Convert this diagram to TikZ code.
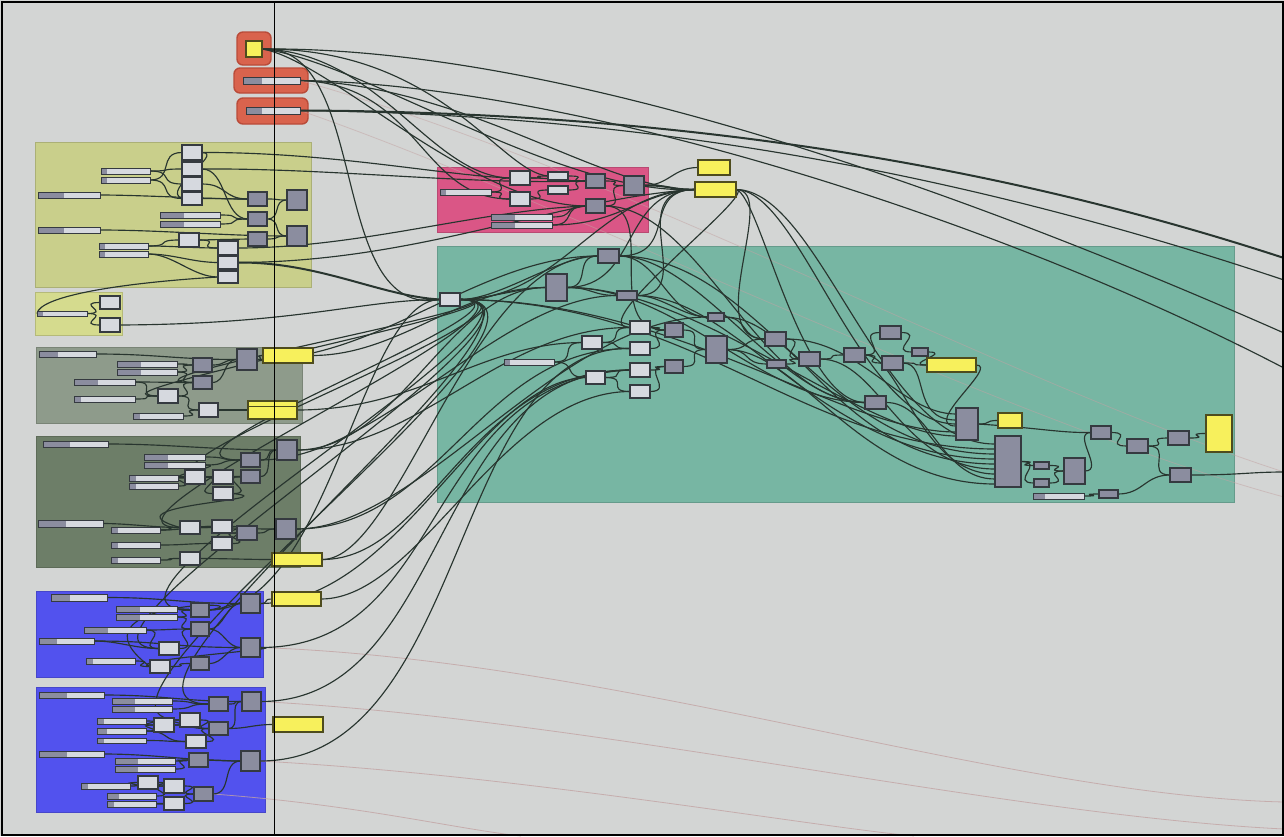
\documentclass[tikz,border=0pt]{standalone}
\usetikzlibrary{calc}
\definecolor{bgc}{HTML}{D3D5D4}
\definecolor{wirec}{HTML}{28352F}
\definecolor{ghostc}{HTML}{C2A3A3}
\definecolor{compc}{HTML}{8B8D9F}
\definecolor{lightc}{HTML}{D6D9DF}
\definecolor{edgec}{HTML}{353A40}
\definecolor{panelc}{HTML}{F7F05C}
\definecolor{paneledge}{HTML}{4E4C1E}
\definecolor{grpyg}{HTML}{C9CF8B}
\definecolor{grpyg2}{HTML}{D5DB8E}
\definecolor{grpga}{HTML}{8E9B8B}
\definecolor{grpgb}{HTML}{6D7E68}
\definecolor{grpblue}{HTML}{5252EE}
\definecolor{grppink}{HTML}{DA5686}
\definecolor{grpteal}{HTML}{77B6A3}
\definecolor{grpred}{HTML}{D9634D}
\definecolor{grpreded}{HTML}{B94B39}

\pgfdeclarelayer{groups}
\pgfdeclarelayer{wires}
\pgfsetlayers{groups,wires,main}

\tikzset{
  box/.style={draw=edgec,line width=1.3pt,inner sep=0pt,outer sep=0pt,anchor=north west},
  dk/.style={box,fill=compc},
  lt/.style={box,fill=lightc},
  pn/.style={box,fill=panelc,draw=paneledge},
  sldbox/.style={box,fill=lightc,line width=0.9pt},
  rgrp/.style={fill=grpred,draw=grpreded,line width=1.4pt,rounded corners=6pt,inner sep=0pt,outer sep=0pt,anchor=north west},
  grp/.style={draw=#1!85!black,line width=0.6pt,fill=#1,inner sep=0pt,outer sep=0pt,anchor=north west},
  wire/.style={draw=wirec,line width=1.15pt},
  heavy/.style={draw=wirec,line width=2pt},
  ghost/.style={draw=ghostc,line width=0.8pt,draw opacity=0.8},
}

% component box: style, name, x1, y1, x2, y2
\newcommand\cpn[6]{\node[#1,minimum width={(#5-#3)*1pt},minimum height={(#6-#4)*1pt}] (#2) at (#3,#4) {};}
% number slider: name, x1, y1, x2, y2, width of the dark grip
\newcommand\slid[6]{\node[sldbox,minimum width={(#4-#2)*1pt},minimum height={(#5-#3)*1pt},
  path picture={\fill[compc] (path picture bounding box.north west) rectangle ([xshift=#6pt]path picture bounding box.south west);}] (#1) at (#2,#3) {};}
% group frame: colour, name, x1, y1, x2, y2
\newcommand\gbx[6]{\node[grp=#1,minimum width={(#5-#3)*1pt},minimum height={(#6-#4)*1pt}] (#2) at (#3,#4) {};}
% plain output-to-input wire
\newcommand\wi[3][25]{\draw[wire] (#2.east) .. controls +(#1,0) and +(-#1,0) .. (#3.west);}

\begin{document}
\begin{tikzpicture}[x=1pt,y=-1pt]
\useasboundingbox (0,0) rectangle (1284,836);

% ---------- groups ----------
\begin{pgfonlayer}{groups}
\fill[bgc] (0,0) rectangle (1284,836);
\cpn{rgrp}{rg1}{237}{32}{271}{65}
\cpn{rgrp}{rg2}{234}{68}{308}{93}
\cpn{rgrp}{rg3}{237}{98}{308}{124}
\gbx{grpyg}{gA}{35}{142}{311}{287}
\gbx{grpyg2}{gB}{35}{292}{122}{335}
\gbx{grpga}{gC}{36}{347}{302}{423}
\gbx{grpgb}{gD}{36}{436}{300}{567}
\gbx{grpblue}{gE}{36}{591}{263}{677}
\gbx{grpblue}{gF}{36}{687}{265}{812}
\gbx{grppink}{gP}{437}{167}{648}{232}
\gbx{grpteal}{gT}{437}{246}{1234}{502}
\end{pgfonlayer}

% ---------- components ----------
% inputs at the top
\cpn{pn}{r1}{246}{41}{262}{57}
\slid{r2}{243}{77}{300}{84}{19}
\slid{r3}{246}{107}{300}{114}{16}
% group A
\cpn{lt}{a1}{182}{145}{202}{160}
\cpn{lt}{a2}{182}{162}{202}{176}
\cpn{lt}{a3}{182}{177}{202}{191}
\cpn{lt}{a4}{182}{192}{202}{205}
\slid{s1}{101}{168}{150}{174}{6}
\slid{s2}{101}{177}{150}{183}{6}
\slid{s3}{38}{192}{100}{198}{26}
\cpn{dk}{g1}{248}{192}{267}{206}
\cpn{dk}{g2}{248}{212}{267}{226}
\cpn{dk}{g3}{248}{232}{267}{246}
\cpn{dk}{b1}{287}{190}{307}{210}
\cpn{dk}{b2}{287}{226}{307}{246}
\slid{s4}{160}{212}{220}{218}{24}
\slid{s5}{160}{221}{220}{227}{24}
\slid{s6}{38}{227}{100}{233}{26}
\cpn{lt}{a5}{179}{233}{199}{247}
\slid{s7}{99}{243}{148}{249}{6}
\slid{s8}{99}{251}{148}{257}{6}
\cpn{lt}{a6}{218}{241}{238}{255}
\cpn{lt}{a7}{218}{256}{238}{269}
\cpn{lt}{a8}{218}{271}{238}{283}
% group B
\slid{s9}{37}{311}{87}{316}{6}
\cpn{lt}{a9}{100}{296}{120}{309}
\cpn{lt}{a10}{100}{318}{120}{332}
% group C
\slid{c1}{39}{351}{96}{357}{19}
\slid{c2}{117}{361}{177}{367}{24}
\slid{c3}{117}{369}{177}{375}{24}
\slid{c4}{74}{379}{135}{385}{24}
\slid{c5}{74}{396}{135}{402}{7}
\slid{c6}{133}{413}{183}{419}{7}
\cpn{dk}{cg1}{193}{358}{212}{372}
\cpn{dk}{cg2}{193}{376}{212}{389}
\cpn{lt}{cl1}{158}{389}{178}{403}
\cpn{lt}{cl2}{199}{403}{218}{417}
\cpn{dk}{cb1}{237}{349}{257}{370}
\cpn{pn}{cy1}{263}{348}{313}{363}
\cpn{pn}{cy2}{248}{401}{297}{419}
\draw[paneledge,line width=0.8pt] (cy2.north west) ++(0,5) -- ++(49,0);
% group D
\slid{d1}{43}{441}{108}{447}{27}
\slid{d2}{144}{454}{205}{460}{24}
\slid{d3}{144}{462}{205}{468}{24}
\slid{d4}{129}{475}{178}{481}{7}
\slid{d5}{129}{483}{178}{489}{7}
\cpn{lt}{dl1}{185}{470}{205}{484}
\cpn{lt}{dl2}{213}{470}{233}{484}
\cpn{lt}{dl3}{213}{487}{233}{500}
\cpn{dk}{dg1}{241}{453}{260}{467}
\cpn{dk}{dg2}{241}{470}{260}{483}
\cpn{dk}{db1}{277}{440}{297}{460}
\slid{d6}{38}{520}{103}{527}{28}
\slid{d7}{111}{527}{160}{533}{7}
\slid{d8}{111}{542}{160}{548}{7}
\slid{d9}{111}{557}{160}{563}{7}
\cpn{lt}{dl4}{180}{521}{200}{534}
\cpn{lt}{dl5}{212}{520}{232}{533}
\cpn{lt}{dl6}{212}{537}{232}{550}
\cpn{dk}{dg3}{237}{526}{257}{540}
\cpn{dk}{db2}{276}{519}{296}{539}
\cpn{lt}{dl7}{180}{552}{200}{565}
\cpn{pn}{dy1}{272}{553}{322}{566}
% group E
\slid{e1}{51}{594}{107}{601}{19}
\slid{e2}{116}{606}{177}{612}{24}
\slid{e3}{116}{614}{177}{620}{24}
\slid{e4}{84}{627}{146}{633}{24}
\slid{e5}{39}{638}{94}{644}{18}
\slid{e6}{86}{658}{135}{664}{7}
\cpn{dk}{eg1}{191}{603}{209}{617}
\cpn{dk}{eg2}{191}{622}{209}{636}
\cpn{lt}{el1}{159}{642}{179}{655}
\cpn{lt}{el2}{150}{660}{170}{673}
\cpn{dk}{eg3}{191}{657}{209}{670}
\cpn{dk}{eb1}{241}{594}{260}{613}
\cpn{dk}{eb2}{241}{638}{260}{657}
\cpn{pn}{ey1}{272}{592}{321}{606}
% group F
\slid{f1}{39}{692}{104}{698}{28}
\slid{f2}{112}{698}{172}{704}{23}
\slid{f3}{112}{706}{172}{712}{23}
\slid{f4}{97}{718}{146}{724}{7}
\slid{f5}{97}{728}{146}{734}{10}
\slid{f6}{97}{738}{146}{743}{7}
\cpn{lt}{fl1}{154}{718}{174}{732}
\cpn{lt}{fl2}{180}{713}{200}{727}
\cpn{lt}{fl3}{186}{735}{206}{748}
\cpn{dk}{fg1}{209}{697}{228}{711}
\cpn{dk}{fg2}{209}{722}{228}{735}
\cpn{dk}{fb1}{242}{692}{261}{711}
\slid{f7}{39}{751}{104}{757}{28}
\slid{f8}{115}{758}{175}{764}{23}
\slid{f9}{115}{766}{175}{772}{23}
\cpn{dk}{fg3}{189}{753}{208}{767}
\cpn{dk}{fb2}{241}{751}{260}{771}
\slid{f10}{81}{783}{130}{789}{7}
\slid{f11}{107}{793}{156}{799}{12}
\slid{f12}{107}{801}{156}{807}{7}
\cpn{lt}{fl4}{138}{776}{158}{789}
\cpn{lt}{fl5}{164}{779}{184}{793}
\cpn{lt}{fl6}{164}{797}{184}{810}
\cpn{dk}{fg4}{194}{787}{213}{801}
\cpn{pn}{fy1}{273}{717}{323}{732}
% pink group
\slid{p1}{440}{189}{491}{195}{6}
\cpn{lt}{pl1}{510}{171}{530}{185}
\cpn{lt}{pl2}{510}{192}{530}{206}
\cpn{lt}{pl3}{548}{172}{568}{180}
\cpn{lt}{pl4}{548}{186}{568}{194}
\cpn{dk}{pg1}{586}{174}{605}{188}
\cpn{dk}{pg2}{586}{199}{605}{213}
\cpn{dk}{pb1}{624}{176}{644}{195}
\slid{p2}{491}{214}{552}{220}{24}
\slid{p3}{491}{222}{552}{228}{24}
\cpn{pn}{py1}{698}{160}{730}{175}
\cpn{pn}{py2}{695}{182}{736}{197}
% teal group
\cpn{lt}{t0}{440}{293}{460}{306}
\cpn{dk}{ta}{598}{249}{619}{263}
\cpn{dk}{tb}{546}{274}{567}{301}
\cpn{dk}{tc}{617}{291}{637}{300}
\cpn{dk}{td}{708}{313}{724}{321}
\slid{tS}{504}{359}{554}{365}{6}
\cpn{lt}{tl1}{582}{336}{602}{349}
\cpn{lt}{tl2}{586}{371}{605}{384}
\cpn{lt}{tl3}{630}{321}{650}{334}
\cpn{lt}{tl4}{630}{342}{650}{355}
\cpn{lt}{tl5}{630}{363}{650}{377}
\cpn{lt}{tl6}{630}{385}{650}{398}
\cpn{dk}{tg1}{665}{323}{683}{337}
\cpn{dk}{tg2}{665}{360}{683}{373}
\cpn{dk}{tm}{706}{336}{727}{363}
\cpn{dk}{tr1}{765}{332}{786}{346}
\cpn{dk}{tr2}{767}{360}{786}{368}
\cpn{dk}{tr3}{799}{352}{820}{366}
\cpn{dk}{tr4}{844}{348}{865}{362}
\cpn{dk}{tr5}{880}{326}{901}{339}
\cpn{dk}{tr6}{912}{348}{928}{356}
\cpn{dk}{tr7}{882}{356}{903}{370}
\cpn{pn}{ty1}{927}{358}{976}{372}
\cpn{dk}{tr8}{865}{396}{886}{409}
\cpn{dk}{tbig2}{956}{408}{978}{440}
\cpn{pn}{ty2}{998}{413}{1022}{428}
\cpn{dk}{tbig}{995}{436}{1021}{487}
\cpn{dk}{ts1}{1034}{462}{1049}{469}
\cpn{dk}{ts2}{1034}{479}{1049}{487}
\cpn{dk}{tg3}{1064}{458}{1085}{484}
\slid{tS3}{1033}{493}{1084}{499}{12}
\cpn{dk}{ts4}{1099}{490}{1118}{498}
\cpn{dk}{tg4}{1091}{426}{1111}{439}
\cpn{dk}{tg5}{1127}{439}{1148}{453}
\cpn{dk}{tg6}{1168}{431}{1189}{445}
\cpn{dk}{tg7}{1170}{468}{1191}{482}
\cpn{pn}{tyb}{1206}{415}{1232}{452}

% free ends at the border
\coordinate (ea) at (1284,258);
\coordinate (eb) at (1284,280);
\coordinate (ec) at (1284,333);
\coordinate (ed) at (1284,368);
\coordinate (ee) at (1284,472);
\coordinate (ga) at (1284,802);
\coordinate (gb) at (1284,829);
\coordinate (gc) at (914,836);
\coordinate (gd) at (521,836);
\coordinate (ge) at (1284,472);
\coordinate (gf) at (1284,497);

\begin{pgfonlayer}{wires}
% ---------- faint wires ----------
\draw[ghost] (eb2.east) .. controls (620,660) and (1000,795) .. (ga);
\draw[ghost] (fb1.east) .. controls (600,720) and (1000,815) .. (gb);
\draw[ghost] (fb2.east) .. controls (520,775) and (800,825) .. (gc);
\draw[ghost] (fg4.east) .. controls (360,805) and (450,828) .. (gd);
\draw[ghost,draw opacity=0.5] (r2.east) .. controls (620,170) and (1000,380) .. (ge);
\draw[ghost,draw opacity=0.5] (r3.east) .. controls (560,200) and (1000,420) .. (gf);

% ---------- wires from the top inputs ----------
\draw[wire] (r1.east) .. controls (560,46) and (960,190) .. (ec);
\draw[wire] (r2.east) .. controls (560,84) and (980,210) .. (ed);
\draw[heavy] (r3.east) .. controls (680,112) and (1000,165) .. (ea);
\draw[wire] (r3.east) .. controls (680,115) and (1000,185) .. (eb);
\draw[wire] (r1.east) .. controls (372,44) and (326,320) .. (t0.west);
\draw[wire] (r1.east) .. controls (380,52) and (430,176) .. (pl1.west);
\draw[wire] (r1.east) .. controls (440,48) and (500,172) .. (pl3.west);
\draw[wire] (r1.east) .. controls (360,60) and (560,196) .. (py2.west);
\draw[wire] (r1.east) .. controls (330,60) and (470,205) .. (pg2.west);
\draw[wire] (r2.east) .. controls (420,84) and (420,199) .. (pl2.west);
\draw[wire] (r2.east) .. controls (470,86) and (600,190) .. (py2.west);

% ---------- group A ----------
\wi{s1}{a2} \wi{s1}{a3} \wi{s2}{a1} \wi{s2}{a4}
\wi[40]{s3}{g1} \wi{a3}{g1} \wi{a4}{g1} \wi{a2}{g2}
\wi[15]{g1}{b1} \wi[15]{g2}{b1} \wi[15]{g2}{b2} \wi[15]{g3}{b2}
\wi{s4}{g2} \wi{s5}{g2} \wi[60]{s6}{b2}
\wi{s7}{a5} \wi{s7}{a6} \wi{s8}{a7} \wi{s8}{a8}
\wi{a5}{a6} \wi{a5}{g3}
\draw[wire] (a1.east) .. controls (225,153) and (160,190) .. (a4.west);
\draw[wire] (a1.east) .. controls (330,152) and (440,175) .. (pl1.west);
\draw[wire] (a2.east) .. controls (330,168) and (470,185) .. (pg1.west);
\draw[heavy] (a7.east) .. controls (320,262) and (380,296) .. (t0.west);
\draw[wire] (a7.east) .. controls (420,262) and (560,198) .. (py2.west);
\draw[wire] (a6.east) .. controls (360,248) and (480,210) .. (pg2.west);
\draw[wire] (s9.west) .. controls (40,296) and (120,283) .. (a8.west);

% ---------- group B ----------
\wi{s9}{a9} \wi{s9}{a10}
\draw[wire] (a10.east) .. controls (300,324) and (360,300) .. (t0.west);

% ---------- group C ----------
\wi[60]{c1}{cb1}
\wi{c2}{cg1} \wi{c3}{cg1} \wi{c3}{cg2} \wi{c4}{cg2} \wi{c4}{cl1} \wi{c5}{cl1}
\wi{cl1}{cg2} \wi{cl1}{cl2} \wi{c6}{cl2}
\wi[15]{cg1}{cb1} \wi[15]{cg2}{cb1} \wi[10]{cb1}{cy1} \wi{cl2}{cy2}
\draw[wire] (cy1.east) .. controls (400,355) and (460,287) .. (tb.west);
\draw[wire] (cy2.east) .. controls (420,410) and (480,343) .. (tl1.west);
\draw[wire] (cb1.east) .. controls (380,360) and (480,256) .. (ta.west);

% ---------- group D ----------
\wi[60]{d1}{db1}
\wi{d2}{dg1} \wi{d3}{dg1} \wi{d3}{dl1} \wi{d4}{dl1} \wi{d5}{dl1}
\wi{dl1}{dl2} \wi{dl1}{dl3} \wi{dl2}{dg2} \wi{dl3}{dg2} \wi[15]{dg1}{db1} \wi[15]{dg2}{db1}
\wi{d6}{dl4} \wi{d7}{dl4} \wi{d7}{dl5} \wi{d8}{dl6} \wi{d9}{dl7}
\wi{dl4}{dl5} \wi{dl5}{dg3} \wi{dl6}{dg3} \wi[15]{dg3}{db2} \wi{dl7}{dy1} \wi[40]{dl4}{db2}
\draw[wire] (dl3.east) .. controls (290,500) and (100,505) .. (dl4.west);
\draw[wire] (db1.east) .. controls (420,450) and (500,327) .. (tl3.west);
\draw[wire] (db1.east) .. controls (400,450) and (450,287) .. (tb.west);
\draw[wire] (dg1.east) .. controls (380,460) and (500,296) .. (tc.west);
\draw[wire] (db2.east) .. controls (440,529) and (480,348) .. (tl4.west);
\draw[wire] (db2.east) .. controls (420,529) and (560,317) .. (td.west);
\draw[wire] (dy1.east) .. controls (430,560) and (470,370) .. (tl5.west);
\draw[wire] (dy1.east) .. controls (400,560) and (470,256) .. (ta.west);

% ---------- group E ----------
\wi[60]{e1}{eb1}
\wi{e2}{eg1} \wi{e3}{eg1} \wi{e3}{eg2} \wi{e4}{eg2} \wi{e4}{el1} \wi{e5}{el1} \wi[70]{e5}{eb2}
\wi{e6}{el2} \wi{el2}{eg3} \wi{el1}{eg2}
\wi[15]{eg1}{eb1} \wi[15]{eg2}{eb1} \wi[15]{eg2}{eb2} \wi[15]{eg3}{eb2} \wi[10]{eb1}{ey1}
\draw[wire] (eg1.east) .. controls (270,600) and (60,600) .. (el2.west);
\draw[wire] (eb2.east) .. controls (300,648) and (120,660) .. (el2.west);
\draw[wire] (ey1.east) .. controls (420,599) and (500,392) .. (tl6.west);
\draw[wire] (eb1.east) .. controls (400,603) and (480,380) .. (tl2.west);
\draw[wire] (eb2.east) .. controls (450,648) and (420,380) .. (tl5.west);
\draw[wire] (eg1.east) .. controls (330,610) and (360,300) .. (t0.west);

% ---------- group F ----------
\wi[60]{f1}{fb1}
\wi{f2}{fg1} \wi{f3}{fg1} \wi{f4}{fl1} \wi{f5}{fl1} \wi{f5}{fl3} \wi{f6}{fl3}
\wi{fl1}{fl2} \wi{fl2}{fg2} \wi{fl1}{fg2} \wi{fl3}{fg2}
\wi[15]{fg1}{fb1} \wi[15]{fg2}{fb1} \wi[50]{f7}{fb2} \wi{f8}{fg3} \wi{f9}{fg3} \wi[15]{fg3}{fb2}
\wi{f10}{fl4} \wi{f11}{fl5} \wi{f12}{fl6} \wi{fl4}{fl5} \wi{fl5}{fg4} \wi{fl6}{fg4}
\wi[20]{fg4}{fb2} \wi[20]{fg2}{fy1}
\draw[wire] (fb1.east) .. controls (450,701) and (430,370) .. (tl5.west);
\draw[wire] (fb2.east) .. controls (470,761) and (450,345) .. (tl4.west);

% ---------- hub wires from t0 back to the left groups ----------
\draw[wire] (t0.east) .. controls (570,300) and (60,396) .. (cl1.west);
\draw[wire] (t0.east) .. controls (560,300) and (90,382) .. (cg2.west);
\draw[wire] (t0.east) .. controls (560,302) and (120,460) .. (dg1.west);
\draw[wire] (t0.east) .. controls (590,302) and (80,477) .. (dl2.west);
\draw[wire] (t0.east) .. controls (580,300) and (60,527) .. (dl4.west);
\draw[wire] (t0.east) .. controls (600,300) and (40,610) .. (eg1.west);
\draw[wire] (t0.east) .. controls (610,300) and (20,648) .. (el1.west);
\draw[wire] (t0.east) .. controls (600,300) and (60,704) .. (fg1.west);
\draw[wire] (t0.east) .. controls (620,300) and (30,720) .. (fl2.west);

% ---------- pink group ----------
\wi{p1}{pl1} \wi{p1}{pl2} \wi{pl1}{pl3} \wi{pl2}{pl4} \wi{pl3}{pg1} \wi{pl4}{pg1} \wi{pl1}{pg1}
\wi{pg1}{pb1} \wi{pg2}{pb1} \wi{p2}{pg2} \wi{p3}{pg2}
\draw[heavy] (pb1.east) .. controls (670,185) and (670,190) .. (py2.west);
\wi{pb1}{py1}
\draw[wire] (tb.east) .. controls (640,287) and (620,190) .. (py2.west);
\draw[wire] (ta.east) .. controls (680,256) and (640,190) .. (py2.west);
\draw[wire] (t0.east) .. controls (560,300) and (600,190) .. (py2.west);
\draw[wire] (tc.east) .. controls (700,296) and (620,190) .. (py2.west);
\draw[wire] (p3.east) .. controls (620,225) and (640,192) .. (py2.west);
\draw[wire] (py2.east) .. controls (780,190) and (700,339) .. (tr1.west);
\draw[wire] (py2.east) .. controls (800,190) and (860,424) .. (tbig2.west);
\draw[wire] (py2.east) .. controls (820,190) and (880,445) .. ([yshift=-8pt]tbig.north west);
\draw[wire] (py2.east) .. controls (760,195) and (800,402) .. (tr8.west);
\draw[wire] (py2.east) .. controls (760,192) and (580,327) .. (tl3.west);
\draw[wire] (pg2.east) .. controls (700,206) and (760,402) .. (tr8.west);
\draw[wire] (pg2.east) .. controls (660,206) and (600,330) .. (tg1.west);

% ---------- teal group ----------
\wi{t0}{tb} \wi[40]{t0}{ta} \wi{tb}{ta} \wi{tb}{tc} \wi[40]{ta}{td} \wi{tc}{td}
\wi{tS}{tl1} \wi{tS}{tl2}
\wi{tl1}{tl3} \wi{tl1}{tl4} \wi{tl2}{tl5} \wi{tl2}{tl6}
\wi{tl3}{tg1} \wi{tl4}{tg1} \wi{tl5}{tg2} \wi{tl6}{tg2}
\wi{tg1}{tm} \wi{tg2}{tm}
\wi{tm}{tr1} \wi{tm}{tr2} \wi{td}{tr1}
\wi{tr1}{tr3} \wi{tr2}{tr3} \wi{tr3}{tr4}
\wi{tr4}{tr5} \wi{tr4}{tr7} \wi{tr5}{tr6} \wi{tr6}{ty1} \wi{tr7}{ty1}
\draw[wire] (t0.east) .. controls (700,302) and (800,449) .. ([yshift=-13pt]tbig.north west);
\draw[wire] (ta.east) .. controls (760,256) and (820,454) .. ([yshift=-18pt]tbig.north west);
\draw[wire] (tc.east) .. controls (740,296) and (820,459) .. ([yshift=-23pt]tbig.north west);
\draw[wire] (td.east) .. controls (800,317) and (840,464) .. ([yshift=-28pt]tbig.north west);
\draw[wire] (tr3.east) .. controls (880,359) and (900,469) .. ([yshift=-33pt]tbig.north west);
\draw[wire] (tr4.east) .. controls (900,355) and (920,474) .. ([yshift=-38pt]tbig.north west);
\draw[wire] (tr8.east) .. controls (930,402) and (940,479) .. ([yshift=-43pt]tbig.north west);
\draw[wire] (tm.east) .. controls (800,350) and (860,484) .. ([yshift=-48pt]tbig.north west);
\draw[wire] (tr1.east) .. controls (860,339) and (900,414) .. ([yshift=-6pt]tbig2.north west);
\draw[wire] (tr7.east) .. controls (930,363) and (910,420) .. ([yshift=-12pt]tbig2.north west);
\draw[wire] (ty1.east) .. controls (1000,365) and (920,426) .. ([yshift=-18pt]tbig2.north west);
\draw[wire] (t0.east) .. controls (680,300) and (840,432) .. ([yshift=-24pt]tbig2.north west);
\draw[wire] (tb.east) .. controls (700,287) and (860,436) .. ([yshift=-28pt]tbig2.north west);
\draw[wire] (tb.east) .. controls (680,287) and (760,402) .. (tr8.west);
\draw[wire] (ta.east) .. controls (700,256) and (780,402) .. (tr8.west);
\wi[15]{tbig2}{ty2}
\draw[wire] (tbig2.east) .. controls (1040,428) and (1060,433) .. (tg4.west);
\wi{tbig}{ts1} \wi{tbig}{ts2} \wi{ts1}{tg3} \wi{ts2}{tg3}
\wi[20]{tg3}{tg4}
\wi{tg4}{tg5} \wi{tg5}{tg6} \wi{tg5}{tg7} \wi{tg6}{tyb}
\wi{tS3}{ts4} \wi{ts4}{tg7}
\draw[wire] (tg7.east) .. controls (1240,475) and (1250,472) .. (ee);
\end{pgfonlayer}

% canvas divider and frame
\draw[black,line width=1pt] (274,3) -- (274,834);
\draw[black,line width=2pt] (2,2) rectangle (1283,835);
\end{tikzpicture}
\end{document}
